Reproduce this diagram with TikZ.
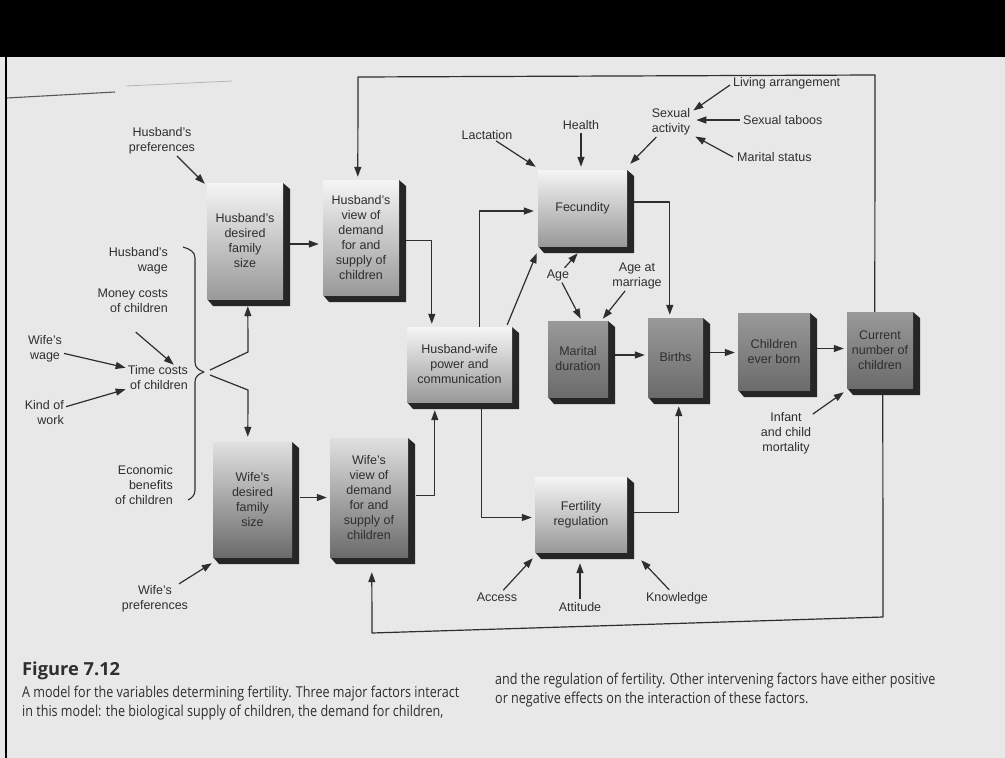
\documentclass[tikz,border=0pt]{standalone}
\usepackage{fontspec}
\setmainfont{Liberation Sans}
\newfontfamily\capfont{Open Sans}
\usetikzlibrary{arrows.meta,calc}
\definecolor{bg}{HTML}{E8E8E8}
\definecolor{ink}{HTML}{2E2E2E}
\definecolor{sidec}{HTML}{262626}
\newcommand\labfont{\fontsize{12.5}{15}\selectfont}
\newcommand\captxt{\capfont\fontsize{15}{18}\selectfont}
\newlength\capw
\newlength\figw
% block: name, x1, y1, x2, y2, face style, text
\newcommand\blk[7]{%
  \fill[sidec] (#4,#3) -- (#4+7,#3+6) -- (#4+7,#5+7) -- (#2+6,#5+7) -- (#2,#5) -- cycle;
  \node[#6, minimum width={(#4-#2)*1pt}, minimum height={(#5-#3)*1pt}] (#1) at ({(#2+#4)/2},{(#3+#5)/2}) {#7};
}
\begin{document}
\settowidth\capw{\captxt A model for the variables determining fertility. Three major factors interact}%
\settowidth\figw{\capfont\bfseries\fontsize{18}{20}\selectfont Figure 7.12}%
\pgfmathsetmacro\capsx{437/\capw}%
\pgfmathsetmacro\figsx{98/\figw}%
\begin{tikzpicture}[x=1pt,y=-1pt,
  conn/.style={draw=ink, line width=1.2pt, line join=round},
  arr/.style={conn, -{Triangle[length=10pt,width=7pt]}},
  lab/.style={text=ink, font=\labfont, align=center, inner sep=0pt},
  boxtxt/.style={text=ink, font=\labfont, align=center, inner sep=0pt},
  lightface/.style={boxtxt, top color=white!96!black, middle color=white!86!black, bottom color=white!60!black},
  wifeface/.style={boxtxt, top color=white!88!black, middle color=white!62!black, bottom color=white!42!black},
  darkface/.style={boxtxt, top color=white!60!black, bottom color=white!42!black},
  capstyle/.style={anchor=base west, inner sep=0pt, text=ink}]
\useasboundingbox (0,0) rectangle (1005,758);
\fill[bg] (0,0) rectangle (1005,758);
\fill[black] (0,0) rectangle (1005,57);
\draw[black, line width=2pt] (6,57) -- (6,758);
% page artefact stroke at top left
\draw[ink!80, line width=1.1pt] (7,98) -- (115,92);
\draw[ink!35, line width=0.8pt] (126,86) -- (232,81);

% blocks
\blk{hdes}{207}{183}{283}{299}{lightface}{Husband's\\desired\\family\\size}
\blk{hview}{323}{180}{399}{295}{lightface}{Husband's\\view of\\demand\\for and\\supply of\\children}
\blk{fec}{538}{170}{627}{246}{lightface}{Fecundity}
\blk{hw}{407}{327}{512}{402}{lightface}{Husband-wife\\power and\\communication}
\blk{mar}{548}{321}{608}{397}{darkface}{Marital\\duration}
\blk{births}{648}{318}{703}{397}{darkface}{Births}
\blk{ceb}{738}{313}{810}{390}{darkface}{Children\\ever born}
\blk{cur}{847}{312}{913}{388}{darkface}{Current\\number of\\children}
\blk{wdes}{213}{442}{292}{557}{wifeface}{Wife's\\desired\\family\\size}
\blk{wview}{330}{438}{408}{557}{wifeface}{Wife's\\view of\\demand\\for and\\supply of\\children}
\blk{freg}{535}{477}{627}{552}{lightface}{Fertility\\regulation}

% labels
\node[lab] (hpref) at (162,141) {Husband's\\preferences};
\node[lab, align=right, anchor=east] (hwage) at (168,261) {Husband's\\wage};
\node[lab, align=right, anchor=east] (money) at (168,301) {Money costs\\of children};
\node[lab] (wwage) at (45,349) {Wife's\\wage};
\node[lab, align=right, anchor=east] (time) at (188,378) {Time costs\\of children};
\node[lab, align=right, anchor=east] (kind) at (64,413) {Kind of\\work};
\node[lab, align=right, anchor=east] (econ) at (173,485) {Economic\\benefits\\of children};
\node[lab] (wpref) at (155,599) {Wife's\\preferences};
\node[lab] (lact) at (487,135) {Lactation};
\node[lab] (health) at (581,125) {Health};
\node[lab] (sex) at (671,122) {Sexual\\activity};
\node[lab, anchor=west] (living) at (733,83) {Living arrangement};
\node[lab, anchor=west] (taboos) at (743,120) {Sexual taboos};
\node[lab, anchor=west] (mstat) at (737,157) {Marital status};
\node[lab] (age) at (558,275) {Age};
\node[lab] (agem) at (637,276) {Age at\\marriage};
\node[lab] (infant) at (786,433) {Infant\\and child\\mortality};
\node[lab] (access) at (497,597) {Access};
\node[lab] (att) at (580,607) {Attitude};
\node[lab] (know) at (677,598) {Knowledge};

% brace
\draw[conn, line width=1.1pt] (183,247) .. controls (190,249) and (195,252) .. (195,258) -- (195,362)
  .. controls (195,368) and (199,370) .. (204,372) .. controls (199,374) and (195,376) .. (195,382)
  -- (195,490) .. controls (195,495) and (192,498) .. (188,500);
\coordinate (bt) at (204,372);
\coordinate (k1) at (248,352);
\coordinate (k2) at (248,390);
\draw[arr] ($(bt)+(6,-2)$) -- (k1) -- ($(hdes.south west)+(41,7)$);
\draw[arr] ($(bt)+(6,3)$) -- (k2) -- ($(wdes.north west)+(35,-5)$);

% label arrows
\draw[arr, shorten <=2pt] (hpref) -- ($(hdes.north west)+(-2,1)$);
\draw[arr, shorten <=2pt] (wwage) -- ($(time.north west)+(-2,2)$);
\draw[arr, shorten <=2pt] (kind) -- ($(time.south west)+(-2,-1)$);
\draw[arr] ($(money.south)+(3,19)$) -- ($(time.north)+(16,-1)$);
\draw[arr, shorten <=3pt] (wpref) -- ($(wdes.south west)+(-1,6)$);
\draw[arr, shorten <=2pt] (lact) -- ($(fec.north west)+(-2,-3)$);
\draw[arr] ($(health.south)+(0,3)$) -- ($(health.south |- fec.north)+(0,-3)$);
\draw[arr, shorten <=2pt] (sex) -- ($(fec.north east)+(3,-6)$);
\draw[arr] ($(living.west)+(-3,2)$) -- ($(sex.north east)+(3,2)$);
\draw[arr] ($(taboos.west)+(-3,0)$) -- ($(sex.east |- taboos.west)+(6,0)$);
\draw[arr] ($(mstat.west)+(-4,0)$) -- ($(sex.south east)+(5,1)$);
\draw[arr, shorten <=2pt] (age) -- ($(fec.south west)+(40,7)$);
\draw[arr, shorten <=2pt] (age) -- ($(mar.north west)+(33,-2)$);
\draw[arr, shorten <=2pt] (agem) -- ($(mar.north west)+(55,-2)$);
\draw[arr, shorten <=2pt] (infant) -- ($(cur.south west)+(-3,4)$);
\draw[arr, shorten <=3pt] (access) -- ($(freg.south west)+(-2,6)$);
\draw[arr] ($(att.north)+(0,-3)$) -- ($(att.north |- freg.south)+(0,11)$);
\draw[arr, shorten <=3pt] (know) -- ($(freg.south east)+(14,8)$);

% block connectors
\draw[arr] ($(hdes.east)+(7,3)$) -- ($(hview.west |- hdes.east)+(-4,3)$);
\draw[arr] ($(hview.east)+(7,3)$) -| ($(hw.north west)+(25,-3)$);
\draw[arr] ($(wdes.east)+(8,-2)$) -- ($(wview.west |- wdes.east)+(-3,-2)$);
\draw[arr] ($(wview.east)+(8,-2)$) -| ($(hw.south west)+(28,8)$);
\draw[arr] ($(hw.north west)+(73,0)$) |- ($(fec.west)+(-4,3)$);
\draw[arr] ($(hw.north east)+(-5,-2)$) -- ($(fec.south west)+(-1,7)$);
\draw[arr] ($(hw.south west)+(75,7)$) |- ($(freg.west)+(-3,3)$);
\draw[arr] ($(fec.east)+(7,-6)$) -| ($(births.north west)+(22,-3)$);
\draw[arr] ($(mar.east)+(7,-4)$) -- ($(births.west |- mar.east)+(-3,-4)$);
\draw[arr] ($(births.east)+(7,-5)$) -- ($(ceb.west |- births.east)+(-3,-5)$);
\draw[arr] ($(ceb.east)+(7,-3)$) -- ($(cur.west |- ceb.east)+(-3,-3)$);
\draw[arr] ($(freg.east)+(7,-2)$) -| ($(births.south west)+(31,9)$);
% feedback loops
\coordinate (tr) at (875,75);
\coordinate (tl) at (358,77);
\draw[arr] ($(cur.north west)+(28,0)$) -- (tr) -- (tl) -- ($(hview.north west)+(35,-3)$);
\coordinate (br) at (883,617);
\coordinate (bl) at (372,633);
\draw[arr] ($(cur.south west)+(36,7)$) -- (br) -- (bl) -- ($(wview.south west)+(42,15)$);

% caption (one common horizontal condensing factor)
\node[capstyle] (fig) at (22,675) {\scalebox{\figsx}[1]{\capfont\bfseries\fontsize{18}{20}\selectfont Figure 7.12}};
\node[capstyle] (cl1) at (22,697) {\scalebox{\capsx}[1]{\captxt A model for the variables determining fertility. Three major factors interact}};
\node[capstyle] (cl2) at (22,716) {\scalebox{\capsx}[1]{\captxt in this model: the biological supply of children, the demand for children,}};
\node[capstyle] (cr1) at (495,684) {\scalebox{\capsx}[1]{\captxt and the regulation of fertility. Other intervening factors have either positive}};
\node[capstyle] (cr2) at (495,703) {\scalebox{\capsx}[1]{\captxt or negative effects on the interaction of these factors.}};
\end{tikzpicture}
\end{document}
